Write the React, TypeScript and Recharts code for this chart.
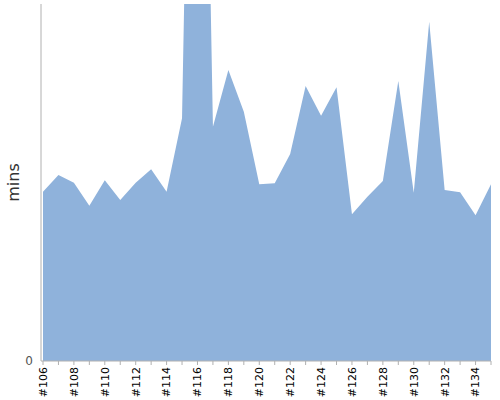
import React from 'react';
import { AreaChart, Area, XAxis, YAxis, Label } from 'recharts';

const builds = [
  '#106', '#107', '#108', '#109', '#110', '#111', '#112', '#113', '#114', '#115',
  '#116', '#117', '#118', '#119', '#120', '#121', '#122', '#123', '#124', '#125',
  '#126', '#127', '#128', '#129', '#130', '#131', '#132', '#133', '#134', '#135',
];

const durations = [
  47.4, 52.1, 49.9, 43.5, 50.6, 45.1, 49.9, 53.7, 47.4, 68.0,
  302, 65.6, 81.5, 69.8, 49.5, 49.8, 58.0, 77.0, 68.7, 76.7,
  41.1, 46.0, 50.4, 78.4, 47.1, 95.0, 47.9, 47.3, 40.8, 49.5,
];

const yTicks = [0];

const data = builds.map((build, i) => ({ build, mins: durations[i] }));

const BuildTick = (props: any) => {
  const { x, y, payload, index } = props;
  if (index % 2 !== 0) return null;
  return (
    <g transform={`translate(${x},${y})`}>
      <text
        transform="rotate(-90)"
        x={0}
        y={0}
        dy="0.35em"
        textAnchor="end"
        fontSize={11}
        fill="#000"
        fontFamily="DejaVu Sans, sans-serif"
      >
        {payload.value}
      </text>
    </g>
  );
};

export default function App() {
  return (
    <div style={{ position: 'absolute', left: 0, top: 0, background: '#fff' }}>
      <AreaChart
        width={500}
        height={400}
        data={data}
        margin={{ top: 4, right: 9, bottom: 0, left: 0 }}
      >
        <XAxis
          dataKey="build"
          interval={0}
          height={39}
          padding={{ left: 2, right: 0 }}
          stroke="#b0b0b0"
          tickSize={4}
          tick={<BuildTick />}
        />
        <YAxis
          width={41}
          domain={[0, 100]}
          allowDataOverflow
          ticks={yTicks}
          tickLine={false}
          stroke="#b0b0b0"
          tick={{ fontSize: 12, fill: '#555', fontFamily: 'DejaVu Sans, sans-serif' }}
        >
          <Label
            value="mins"
            angle={-90}
            position="insideLeft"
            offset={13}
            style={{ fontSize: 16, fill: '#333', fontFamily: 'DejaVu Sans, sans-serif', textAnchor: 'middle' }}
          />
        </YAxis>
        <Area
          type="linear"
          dataKey="mins"
          stroke="none"
          fill="#8fb2db"
          fillOpacity={1}
          isAnimationActive={false}
        />
      </AreaChart>
    </div>
  );
}
